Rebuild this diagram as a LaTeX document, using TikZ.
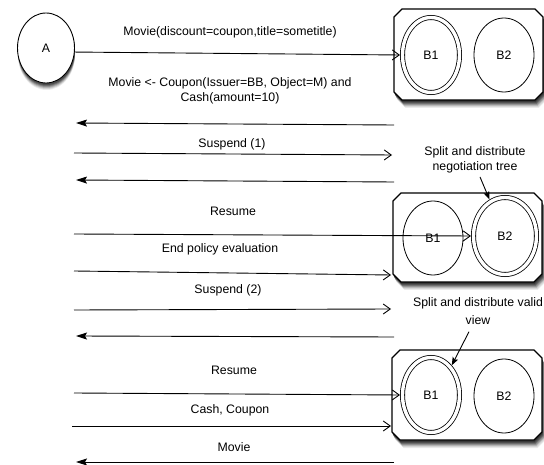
\documentclass[tikz,border=0pt]{standalone}
\usepackage{fontspec}
\setmainfont{Liberation Sans}
\usetikzlibrary{shapes.geometric,arrows.meta}
% chamfered group box: name, x0, y0, x1, y1 (screen coordinates)
\newcommand{\chambox}[5]{%
  \foreach \dx/\dy/\g in {3.5/8/8,3/7/16,2.5/6/28,2/5/42,1.5/4/56,1/3/68,0.5/2/78}{%
    \fill[black!\g,shift={(\dx,\dy)}]
      (#2+8,#3) -- (#4-8,#3) -- (#4,#3+8) -- (#4,#5-8) -- (#4-8,#5) -- (#2+8,#5) -- (#2,#5-8) -- (#2,#3+8) -- cycle;}
  \filldraw[boxline]
      (#2+8,#3) -- (#4-8,#3) -- (#4,#3+8) -- (#4,#5-8) -- (#4-8,#5) -- (#2+8,#5) -- (#2,#5-8) -- (#2,#3+8) -- cycle;
  \node[inner sep=0pt,outer sep=0pt,minimum width={#4-#2},minimum height={#5-#3}] (#1) at ({(#2+#4)/2},{(#3+#5)/2}) {};}
\begin{document}
\begin{tikzpicture}[x=1pt,y=-1pt,
  every node/.style={font=\fontsize{12.3}{15}\selectfont, inner sep=1pt},
  msg/.style={line width=0.9pt},
  toR/.style={msg,-{Straight Barb[length=7pt,width=10pt]}},
  toL/.style={msg,-{Stealth[length=11pt,width=7pt,inset=2pt]}},
  pointer/.style={line width=0.9pt,-{Stealth[length=8pt,width=6pt,inset=1.5pt]}},
  boxline/.style={draw=black,fill=white,line width=1.1pt},
  actor/.style={ellipse,draw,line width=0.9pt,fill=white,minimum width=57pt,minimum height=70pt,inner sep=0pt},
  single/.style={ellipse,draw,line width=0.8pt,minimum width=60pt,minimum height=74pt,inner sep=0pt},
  dbl/.style={ellipse,draw,line width=0.8pt,double,double distance=3.4pt,minimum width=57pt,minimum height=75pt,inner sep=0pt,outer sep=2.5pt},
  sidelabel/.style={align=center}
]
\path[use as bounding box] (0,0) rectangle (544,465);

% actor with soft shadow
\foreach \dy/\g in {7/8,6/18,5/30,4/44,3/58,2/70}{%
  \fill[black!\g] (46.5,48+\dy) ellipse [x radius=28.5, y radius=35];}
\node[actor] (A) at (46,48) {A};

% group 1
\chambox{box1}{394}{9}{543}{100}
\node[dbl] (b1a) at (431,55) {B1};
\node[single] (b2a) at (504,55) {B2};

% group 2
\chambox{box2}{393}{193}{542}{282}
\node[single] (b1b) at (433,238) {B1};
\node[dbl,minimum width=63pt,minimum height=77pt] (b2b) at (505,236) {B2};

% group 3
\chambox{box3}{392}{350}{542}{440}
\node[dbl] (b1c) at (431,395) {B1};
\node[single] (b2c) at (504,396) {B2};

% messages
\node (m1) at (230,32) {Movie(discount=coupon,title=sometitle)};
\draw[toR] (A.-8) -- (b1a.west);

\node[align=center] (m2) at (230,90.5) {Movie <- Coupon(Issuer=BB, Object=M) and\\Cash(amount=10)};
\coordinate (r2) at (394,125); \coordinate (l2) at (76,123);
\draw[toL] (r2) -- (l2);

\node (m3) at (232,144) {Suspend (1)};
\coordinate (l3) at (74,153); \coordinate (r3) at (392,155);
\draw[toR] (l3) -- (r3);

\node[sidelabel] (n1) at (475,159.5) {Split and distribute\\negotiation tree};
\coordinate (r4) at (394,182); \coordinate (l4) at (76,180);
\draw[toL] (r4) -- (l4);

\node (m4) at (233,211) {Resume};
\coordinate (l5) at (74,234);
\draw[toR] (l5) -- (b2b.west);

\node (m5) at (220,249) {End policy evaluation};
\coordinate (l6) at (74,271); \coordinate (r6) at (391,275);
\draw[toR] (l6) -- (r6);

\node (m6) at (228,290) {Suspend (2)};
\coordinate (l7) at (74,310); \coordinate (r7) at (391,309);
\draw[toR] (l7) -- (r7);

\node[sidelabel,font=\fontsize{12.3}{18}\selectfont] (n2) at (478,311) {Split and distribute valid\\view};
\coordinate (r8) at (394,337); \coordinate (l8) at (76,336);
\draw[toL] (r8) -- (l8);

\node (m7) at (234,370) {Resume};
\coordinate (l9) at (74,393);
\draw[toR] (l9) -- (b1c.west);

\node (m8) at (230,410) {Cash, Coupon};
\coordinate (l10) at (72,426); \coordinate (r10) at (391,426);
\draw[toR] (l10) -- (r10);

\node (m9) at (234,447) {Movie};
\coordinate (r11) at (394,462); \coordinate (l11) at (76,462);
\draw[toL] (r11) -- (l11);

% pointers from side labels
\draw[pointer] ([xshift=5pt,yshift=-3pt]n1.south) -- (b2b.113);
\draw[pointer] ([xshift=-9pt,yshift=-6pt]n2.south) -- (b1c.55);
\end{tikzpicture}
\end{document}
